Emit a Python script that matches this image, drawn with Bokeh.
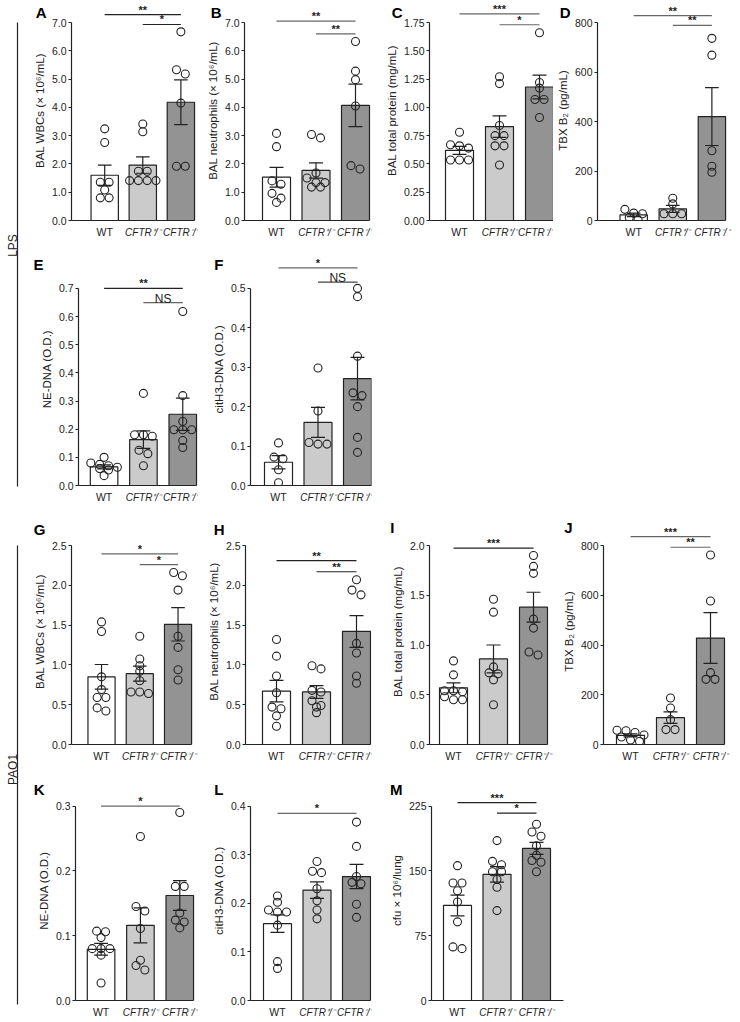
import math
from bokeh.plotting import figure
from bokeh.layouts import row, column
from bokeh.models import Range1d, FixedTicker, LinearAxis
from bokeh.embed import file_html
from bokeh.resources import INLINE
from bokeh.core.properties import value

FONT = "Liberation Sans"
GROUPS = ["WT", "CFTR⁺/⁻", "CFTR⁻/⁻"]
FILLS = ["#ffffff", "#cbcbcb", "#939393"]

# ---------------- data ----------------
A_wt = [3.24, 2.76, 1.35, 1.35, 1.08, 0.80, 0.80]
A_het = [3.41, 3.14, 1.74, 1.74, 1.41, 1.41, 1.41, 1.41]
A_ko = [6.67, 5.33, 5.18, 4.15, 1.92, 1.92]
A_mean = [1.60, 1.96, 4.18]
A_sem = [0.36, 0.29, 0.79]

B_wt = [3.08, 2.61, 1.40, 1.28, 0.96, 0.79, 0.64]
B_het = [3.04, 2.92, 1.68, 1.50, 1.34, 1.34, 1.18, 1.18]
B_ko = [6.33, 5.28, 4.98, 4.05, 1.94, 1.82]
B_mean = [1.53, 1.77, 4.07]
B_sem = [0.35, 0.27, 0.75]

C_wt = [0.78, 0.67, 0.64, 0.66, 0.535, 0.535, 0.535]
C_het = [1.27, 1.21, 0.84, 0.75, 0.75, 0.66, 0.66, 0.49]
C_ko = [1.66, 1.22, 1.17, 1.07, 1.07, 0.91]
C_mean = [0.62, 0.83, 1.18]
C_sem = [0.035, 0.095, 0.105]

D_wt = [45, 30, 27, 12, 3]
D_het = [90, 67, 27, 27, 27]
D_ko = [736, 668, 282, 219, 195]
D_mean = [23, 47, 420]
D_sem = [7, 14, 117]

E_wt = [0.100, 0.080, 0.075, 0.070, 0.065, 0.060, 0.055, 0.035]
E_het = [0.327, 0.180, 0.180, 0.175, 0.125, 0.113, 0.070]
E_ko = [0.618, 0.319, 0.227, 0.198, 0.198, 0.198, 0.160, 0.135]
E_mean = [0.066, 0.163, 0.253]
E_sem = [0.007, 0.031, 0.057]

F_wt = [0.108, 0.072, 0.068, 0.040, 0.007]
F_het = [0.298, 0.189, 0.109, 0.105, 0.105]
F_ko = [0.500, 0.479, 0.328, 0.235, 0.228, 0.200, 0.122, 0.084]
F_mean = [0.059, 0.160, 0.271]
F_sem = [0.017, 0.038, 0.054]

G_wt = [1.54, 1.42, 0.85, 0.69, 0.59, 0.59, 0.46, 0.42]
G_het = [1.36, 1.075, 0.99, 0.92, 0.80, 0.66, 0.66, 0.64]
G_ko = [2.16, 2.12, 1.94, 1.36, 1.22, 0.94, 0.81]
G_mean = [0.85, 0.89, 1.51]
G_sem = [0.155, 0.095, 0.21]

H_wt = [1.32, 1.11, 0.86, 0.65, 0.47, 0.45, 0.36, 0.23]
H_het = [0.99, 0.95, 0.68, 0.66, 0.55, 0.49, 0.47, 0.40]
H_ko = [2.07, 1.94, 1.88, 1.27, 1.15, 0.86, 0.77]
H_mean = [0.67, 0.66, 1.42]
H_sem = [0.135, 0.08, 0.20]

I_wt = [0.84, 0.70, 0.54, 0.54, 0.53, 0.48, 0.45, 0.45]
I_het = [1.46, 1.33, 0.78, 0.72, 0.71, 0.65, 0.40]
I_ko = [1.90, 1.79, 1.72, 1.26, 1.17, 0.93, 0.90]
I_mean = [0.57, 0.86, 1.38]
I_sem = [0.05, 0.14, 0.15]

J_wt = [57, 55, 48, 38, 30, 18, 12]
J_het = [187, 147, 100, 60, 60]
J_ko = [762, 577, 289, 262, 262]
J_mean = [37, 108, 428]
J_sem = [6, 23, 102]

K_wt = [0.107, 0.106, 0.097, 0.080, 0.080, 0.080, 0.070, 0.027]
K_het = [0.253, 0.145, 0.138, 0.111, 0.062, 0.054, 0.047]
K_ko = [0.290, 0.176, 0.176, 0.135, 0.124, 0.121, 0.112]
K_mean = [0.079, 0.116, 0.162]
K_sem = [0.009, 0.027, 0.023]

L_wt = [0.215, 0.202, 0.186, 0.182, 0.182, 0.155, 0.080, 0.066]
L_het = [0.286, 0.266, 0.263, 0.230, 0.205, 0.186, 0.168]
L_ko = [0.367, 0.317, 0.255, 0.243, 0.240, 0.198, 0.171]
L_mean = [0.158, 0.227, 0.255]
L_sem = [0.018, 0.017, 0.025]

M_wt = [156, 136, 136, 127, 114, 91, 62, 60]
M_het = [185, 161, 157, 149, 149, 140, 131, 104]
M_ko = [204, 195, 190, 179, 168, 162, 160, 149]
M_mean = [110, 146, 176]
M_sem = [12, 9, 7]

# y ticks and their labels
TICKS_7 = [0, 1, 2, 3, 4, 5, 6, 7]
LABS_7 = ["0.0", "1.0", "2.0", "3.0", "4.0", "5.0", "6.0", "7.0"]
TICKS_175 = [0, 0.25, 0.5, 0.75, 1.0, 1.25, 1.5, 1.75]
LABS_175 = ["0.00", "0.25", "0.50", "0.75", "1.00", "1.25", "1.50", "1.75"]
TICKS_800 = [0, 200, 400, 600, 800]
LABS_800 = ["0", "200", "400", "600", "800"]
TICKS_07 = [0, 0.1, 0.2, 0.3, 0.4, 0.5, 0.6, 0.7]
LABS_07 = ["0.0", "0.1", "0.2", "0.3", "0.4", "0.5", "0.6", "0.7"]
TICKS_05 = [0, 0.1, 0.2, 0.3, 0.4, 0.5]
LABS_05 = ["0.0", "0.1", "0.2", "0.3", "0.4", "0.5"]
TICKS_25 = [0, 0.5, 1.0, 1.5, 2.0, 2.5]
LABS_25 = ["0.0", "0.5", "1.0", "1.5", "2.0", "2.5"]
TICKS_20 = [0, 0.5, 1.0, 1.5, 2.0]
LABS_20 = ["0.0", "0.5", "1.0", "1.5", "2.0"]
TICKS_03 = [0, 0.1, 0.2, 0.3]
LABS_03 = ["0.0", "0.1", "0.2", "0.3"]
TICKS_04 = [0, 0.1, 0.2, 0.3, 0.4]
LABS_04 = ["0.0", "0.1", "0.2", "0.3", "0.4"]
TICKS_225 = [0, 75, 150, 225]
LABS_225 = ["0", "75", "150", "225"]

# significance brackets: (group i, group j, y, text, line color)
A_sig = [(0, 2, 7.28, "**", "#222222"), (1, 2, 6.93, "*", "#222222")]
B_sig = [(0, 2, 7.05, "**", "#666666"), (1, 2, 6.60, "**", "#666666")]
C_sig = [(0, 2, 1.827, "***", "#666666"), (1, 2, 1.73, "*", "#666666")]
D_sig = [(0, 2, 828, "**", "#666666"), (1, 2, 788, "**", "#666666")]
E_sig = [(0, 2, 0.700, "**", "#222222"), (1, 2, 0.649, "NS", "#666666")]
F_sig = [(0, 2, 0.552, "*", "#666666"), (1, 2, 0.516, "NS", "#444444")]
G_sig = [(0, 2, 2.396, "*", "#666666"), (1, 2, 2.26, "*", "#666666")]
H_sig = [(0, 2, 2.31, "**", "#222222"), (1, 2, 2.17, "**", "#222222")]
I_sig = [(0, 2, 1.973, "***", "#222222")]
J_sig = [(0, 2, 836, "***", "#666666"), (1, 2, 793, "**", "#666666")]
K_sig = [(0, 2, 0.300, "*", "#666666")]
L_sig = [(0, 2, 0.385, "*", "#666666")]
M_sig = [(0, 2, 229, "***", "#222222"), (1, 2, 216.7, "*", "#222222")]

# ---------------- layout constants (pixels) ----------------
# row: (row_top, row_bottom, frame_top, y_zero_px, y_max_px)
ROWS = [(0, 240, 0, 220, 22), (240, 505, 252, 486, 288),
        (505, 765, 518, 744, 545), (765, 1020, 780, 1004, 806)]
# panel: row, fig_left, fig_right, axis_x, first_center, spacing, frame_right, xaxis_end, letter_x, letter_top
GEO = {
    "A": (0, 30, 198, 68, 102, 39.0, 196, 194, 38, 0),
    "B": (0, 198, 372, 244, 276, 39.5, 371, 369, 216, 0),
    "C": (0, 372, 553, 429, 459, 40.0, 553, 553, 396, 0),
    "D": (0, 553, 736, 594, 631, 40.0, 728, 725, 562, 0),
    "E": (1, 30, 198, 76, 102, 40.0, 198, 196, 37, 259),
    "F": (1, 198, 372, 250, 278, 39.5, 371, 371, 219, 259),
    "G": (2, 30, 198, 67, 98, 39.5, 194, 191, 35, 524),
    "H": (2, 198, 372, 245, 276, 40.0, 371, 370, 219, 524),
    "I": (2, 372, 556, 429, 453, 40.0, 550, 547, 395, 522),
    "J": (2, 556, 736, 603, 630, 40.0, 728, 724, 569, 522),
    "K": (3, 30, 198, 73, 99, 40.0, 196, 193, 37, 784),
    "L": (3, 198, 372, 250, 277, 39.5, 371, 370, 219, 784),
    "M": (3, 372, 570, 431, 457, 39.5, 566, 563, 395, 784),
}

INK = "#222222"
BOLD_W = {"A": .722, "B": .722, "C": .722, "D": .722, "E": .667, "F": .611, "G": .778,
          "H": .722, "I": .278, "J": .556, "K": .722, "L": .611, "M": .833}


def label_width(s, size):
    return sum(0.278 if ch == "." else 0.556 for ch in s) * size


def swarm(vals, center, ppu_y, sp, d=9.0):
    """Deterministic row layout: near-equal values share a row, centred."""
    order = sorted(range(len(vals)), key=lambda i: -vals[i])
    xs = [center] * len(vals)
    rows = []
    for i in order:
        py = vals[i] * ppu_y
        if rows and abs(rows[-1][0] - py) < d * 0.55 and len(rows[-1][1]) < 4:
            rows[-1][1].append(i)
        else:
            rows.append([py, [i]])
    for _, idx in rows:
        n = len(idx)
        for k, i in enumerate(idx):
            xs[i] = center + (k - (n - 1) / 2) * d / sp
    return xs


def text_axis(ticks, texts, bounds, size, style, standoff, color=INK):
    return LinearAxis(ticker=FixedTicker(ticks=ticks), bounds=bounds,
                      major_label_overrides={t: s for t, s in zip(ticks, texts)},
                      axis_line_color=None, major_tick_line_color=None,
                      minor_tick_line_color=None, major_tick_out=0, major_tick_in=0,
                      minor_tick_out=0, minor_tick_in=0, major_label_standoff=standoff,
                      major_label_text_font=FONT, major_label_text_font_size=size,
                      major_label_text_font_style=style, major_label_text_color=color)


def panel(letter, ylabel, ticks, labels, groups, means, sems, sigs):
    r, fl, fr, ax, c1, sp, frr, xend, lx, ltop = GEO[letter]
    rt, rb, ft, y0, ytop = ROWS[r]
    ymax = ticks[-1]
    ppu = (y0 - ytop) / ymax
    y_end = (y0 - ft) / ppu
    x_start = 1 - (c1 - ax) / sp
    x_end = x_start + (frr - ax) / sp
    p = figure(width=fr - fl, height=rb - rt,
               x_range=Range1d(x_start, x_end), y_range=Range1d(0, y_end),
               min_border_left=ax - fl, min_border_right=fr - frr,
               min_border_top=ft - rt, min_border_bottom=rb - y0,
               toolbar_location=None, tools="", output_backend="svg",
               title_location=None,
               outline_line_color=None, background_fill_color="white",
               border_fill_color="white")
    p.xgrid.visible = False
    p.ygrid.visible = False

    ya = p.yaxis[0]
    ya.ticker = FixedTicker(ticks=ticks)
    ya.major_label_overrides = {t: s for t, s in zip(ticks, labels)}
    ya.bounds = (0, ymax)
    ya.axis_label = ylabel
    ya.axis_label_text_font = FONT
    ya.axis_label_text_font_size = "11.5px"
    ya.axis_label_text_font_style = "normal"
    ya.axis_label_text_color = INK
    ya.axis_label_standoff = 3
    ya.major_label_text_font = FONT
    ya.major_label_text_font_size = "10.5px"
    ya.major_label_text_color = INK
    ya.major_label_standoff = 2
    ya.major_tick_out = 3
    ya.major_tick_in = 0
    ya.minor_tick_line_color = None
    ya.axis_line_width = 1.2
    ya.axis_line_color = INK
    ya.major_tick_line_color = INK

    # x axis: line + "WT" label (upright); genotype labels italic on a second axis
    xa = p.xaxis[0]
    xa.ticker = FixedTicker(ticks=[1])
    xa.major_label_overrides = {1: GROUPS[0]}
    xa.bounds = (x_start, 3 + (xend - (c1 + 2 * sp)) / sp)
    xa.axis_line_width = 1.2
    xa.axis_line_color = INK
    xa.major_tick_out = 0
    xa.major_tick_in = 0
    xa.major_tick_line_color = None
    xa.minor_tick_line_color = None
    xa.major_label_standoff = 5
    xa.major_label_text_font = FONT
    xa.major_label_text_font_size = "10.5px"
    xa.major_label_text_color = INK
    p.add_layout(text_axis([2, 3], GROUPS[1:], (0.9, 3.1), "10px", "italic", -14), "below")

    # panel letter, drawn as the single label of an extra left axis
    main_w = 3 + 2 + max(label_width(s, 10.5) for s in labels) + 3 + 12.8
    letter_w = BOLD_W[letter] * 15
    st = int(round(ax - main_w - (lx + letter_w)))
    yl = (y0 - (ltop + 5.4)) / ppu
    d = ymax * 0.001
    p.add_layout(text_axis([yl], [letter], (yl - d, yl + d), "15px", "bold", st,
                           color="black"), "left")

    xs = [1, 2, 3]
    bw = 28.0 / sp
    p.vbar(x=xs, top=means, bottom=0, width=bw, fill_color=FILLS,
           line_color=INK, line_width=1.2)

    lo = [m - s for m, s in zip(means, sems)]
    hi = [m + s for m, s in zip(means, sems)]
    cw = 7.0 / sp
    p.segment(x0=xs, y0=lo, x1=xs, y1=hi, line_color=INK, line_width=1.2)
    p.segment(x0=[x - cw for x in xs], y0=hi, x1=[x + cw for x in xs], y1=hi,
              line_color=INK, line_width=1.2)
    p.segment(x0=[x - cw for x in xs], y0=lo, x1=[x + cw for x in xs], y1=lo,
              line_color=INK, line_width=1.2)

    for g, vals in enumerate(groups):
        px = swarm(vals, g + 1, ppu, sp)
        p.scatter(x=px, y=vals, size=8, marker="circle", fill_alpha=0,
                  line_color=INK, line_width=1.1)

    for (i, j, y, txt, col) in sigs:
        p.segment(x0=[i + 1], y0=[y], x1=[j + 1], y1=[y], line_color=col,
                  line_width=1.2)
        ns = txt == "NS"
        p.text(x=[(i + j) / 2 + 1], y=[y], text=[txt], text_align="center",
               text_baseline="alphabetic", y_offset=-4 if ns else -5,
               text_font=value(FONT), text_font_size="12px" if ns else "11px",
               text_font_style="normal" if ns else "bold", text_color=INK)
    return p


pA = panel("A", "BAL WBCs (× 10⁶/mL)", TICKS_7, LABS_7, [A_wt, A_het, A_ko], A_mean, A_sem, A_sig)
pB = panel("B", "BAL neutrophils (× 10⁶/mL)", TICKS_7, LABS_7, [B_wt, B_het, B_ko], B_mean, B_sem, B_sig)
pC = panel("C", "BAL total protein (mg/mL)", TICKS_175, LABS_175, [C_wt, C_het, C_ko], C_mean, C_sem, C_sig)
pD = panel("D", "TBX B₂ (pg/mL)", TICKS_800, LABS_800, [D_wt, D_het, D_ko], D_mean, D_sem, D_sig)
pE = panel("E", "NE-DNA (O.D.)", TICKS_07, LABS_07, [E_wt, E_het, E_ko], E_mean, E_sem, E_sig)
pF = panel("F", "citH3-DNA (O.D.)", TICKS_05, LABS_05, [F_wt, F_het, F_ko], F_mean, F_sem, F_sig)
pG = panel("G", "BAL WBCs (× 10⁶/mL)", TICKS_25, LABS_25, [G_wt, G_het, G_ko], G_mean, G_sem, G_sig)
pH = panel("H", "BAL neutrophils (× 10⁶/mL)", TICKS_25, LABS_25, [H_wt, H_het, H_ko], H_mean, H_sem, H_sig)
pI = panel("I", "BAL total protein (mg/mL)", TICKS_20, LABS_20, [I_wt, I_het, I_ko], I_mean, I_sem, I_sig)
pJ = panel("J", "TBX B₂ (pg/mL)", TICKS_800, LABS_800, [J_wt, J_het, J_ko], J_mean, J_sem, J_sig)
pK = panel("K", "NE-DNA (O.D.)", TICKS_03, LABS_03, [K_wt, K_het, K_ko], K_mean, K_sem, K_sig)
pL = panel("L", "citH3-DNA (O.D.)", TICKS_04, LABS_04, [L_wt, L_het, L_ko], L_mean, L_sem, L_sig)
pM = panel("M", "cfu × 10⁶/lung", TICKS_225, LABS_225, [M_wt, M_het, M_ko], M_mean, M_sem, M_sig)

# left strip with the LPS / PAO1 group brackets
TOTAL_H = 1020
SIDE = [("LPS", 22, 486, 245), ("PAO1", 545, 1004, 769)]
strip = figure(width=30, height=TOTAL_H, x_range=Range1d(0, 30), y_range=Range1d(0, TOTAL_H),
               min_border_left=0, min_border_right=0, min_border_top=0, min_border_bottom=0,
               toolbar_location=None, tools="", output_backend="svg", title_location=None,
               outline_line_color=None, x_axis_type=None, y_axis_type=None)
strip.xgrid.visible = False
strip.ygrid.visible = False
for name, top, bot, mid in SIDE:
    strip.segment(x0=[17], y0=[TOTAL_H - top], x1=[17], y1=[TOTAL_H - bot],
                  line_color=INK, line_width=1.2)
    strip.text(x=[12], y=[TOTAL_H - mid], text=[name], angle=math.pi / 2,
               text_align="center", text_baseline="middle",
               text_font=value(FONT), text_font_size="12px", text_color=INK)

grid = column(row(pA, pB, pC, pD), row(pE, pF), row(pG, pH, pI, pJ), row(pK, pL, pM))
root = row(strip, grid)

with open("out.html", "w") as f:
    f.write(file_html(root, INLINE))
